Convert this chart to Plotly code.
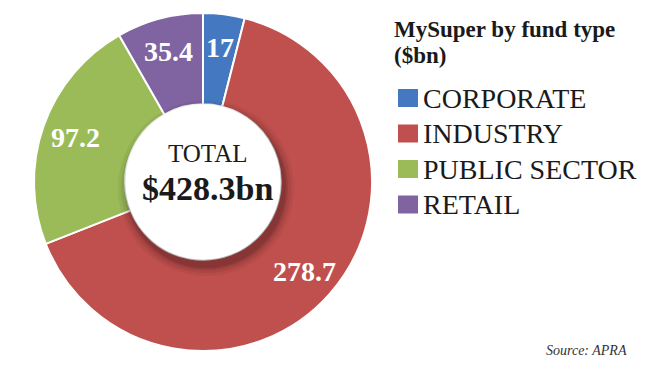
import math
import plotly.graph_objects as go

# ---- data ----
categories = ["CORPORATE", "INDUSTRY", "PUBLIC SECTOR", "RETAIL"]
values = [17, 278.7, 97.2, 35.4]
value_labels = ["17", "278.7", "97.2", "35.4"]
colors = ["#4479c2", "#c0504d", "#9bbb59", "#8064a2"]
legend_title = ["MySuper by fund type", "($bn)"]
center_lines = ["TOTAL", "$428.3bn"]
source_text = "Source: APRA"

# page is 650x366; the html body has an 8px default margin
OFF = 8
W, H = 650 - OFF, 366 - OFF
SERIF = "Liberation Serif, Times New Roman, serif"

# pie geometry (page pixels)
cx, cy, R = 203, 182, 169
hole_frac = 0.46


def px(x):
    return (x - OFF) / W


def py(y):
    return 1 - (y - OFF) / H


fig = go.Figure()
fig.add_trace(go.Pie(
    labels=categories,
    values=values,
    marker=dict(colors=colors, line=dict(color="white", width=2)),
    hole=hole_frac,
    sort=False,
    direction="clockwise",
    rotation=0,
    textinfo="none",
    showlegend=False,
    domain=dict(x=[px(cx - R), px(cx + R)], y=[py(cy + R), py(cy - R)]),
))

shapes = []
# soft shadow around the hole (offset down-right)
for rr, op in [(88, 0.05), (85, 0.07), (82, 0.10), (80, 0.10)]:
    sx, sy = cx + 3, cy + 6
    shapes.append(dict(type="circle", xref="paper", yref="paper",
                       x0=px(sx - rr), x1=px(sx + rr), y0=py(sy + rr), y1=py(sy - rr),
                       fillcolor=f"rgba(0,0,0,{op})", line=dict(width=0), layer="above"))
rh = R * hole_frac
shapes.append(dict(type="circle", xref="paper", yref="paper",
                   x0=px(cx - rh), x1=px(cx + rh), y0=py(cy + rh), y1=py(cy - rh),
                   fillcolor="white", line=dict(width=0), layer="above"))

annotations = []
# value labels at slice mid-angles
total = sum(values)
cum = 0
r_lab = R * 0.8
for v, lab in zip(values, value_labels):
    mid = (cum + v / 2) / total * 2 * math.pi
    cum += v
    lx = cx + r_lab * math.sin(mid)
    ly = cy - r_lab * math.cos(mid)
    annotations.append(dict(x=px(lx), y=py(ly), xref="paper", yref="paper",
                            text=f"<b>{lab}</b>", showarrow=False,
                            font=dict(family=SERIF, size=28, color="white"),
                            xanchor="center", yanchor="middle"))

# center text
annotations.append(dict(x=px(cx + 4), y=py(153), xref="paper", yref="paper",
                        text=center_lines[0], showarrow=False,
                        font=dict(family=SERIF, size=25, color="#1a1a1a"),
                        xanchor="center", yanchor="middle"))
annotations.append(dict(x=px(cx + 4), y=py(188), xref="paper", yref="paper",
                        text=f"<b>{center_lines[1]}</b>", showarrow=False,
                        font=dict(family=SERIF, size=34, color="#1a1a1a"),
                        xanchor="center", yanchor="middle"))

# legend title
for i, t in enumerate(legend_title):
    annotations.append(dict(x=px(392), y=py(30 + 25 * i), xref="paper", yref="paper",
                            text=f"<b>{t}</b>", showarrow=False,
                            font=dict(family=SERIF, size=23, color="#1a1a1a"),
                            xanchor="left", yanchor="middle"))

# legend items
for i, (cat, col) in enumerate(zip(categories, colors)):
    yc = 98 + 35.5 * i
    shapes.append(dict(type="rect", xref="paper", yref="paper",
                       x0=px(398), x1=px(418), y0=py(yc + 9), y1=py(yc - 9),
                       fillcolor=col, line=dict(width=0)))
    annotations.append(dict(x=px(421), y=py(yc), xref="paper", yref="paper",
                            text=cat, showarrow=False,
                            font=dict(family=SERIF, size=28, color="#1a1a1a"),
                            xanchor="left", yanchor="middle"))

# source
annotations.append(dict(x=px(629), y=py(350), xref="paper", yref="paper",
                        text=f"<i>{source_text}</i>", showarrow=False,
                        font=dict(family=SERIF, size=14, color="#333333"),
                        xanchor="right", yanchor="middle"))

fig.update_layout(
    width=W, height=H,
    margin=dict(l=0, r=0, t=0, b=0),
    paper_bgcolor="white", plot_bgcolor="white",
    shapes=shapes, annotations=annotations,
    showlegend=False,
)

fig.write_html("out.html")
